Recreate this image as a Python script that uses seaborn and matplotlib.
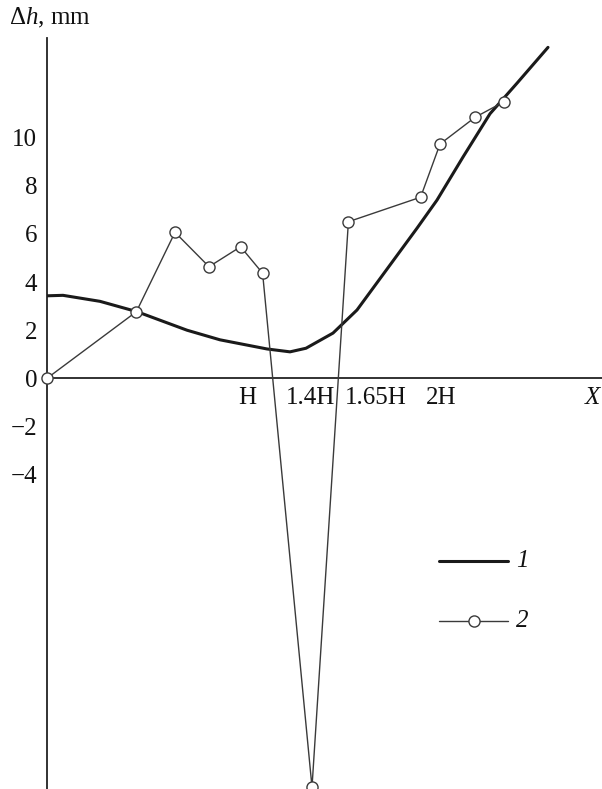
import matplotlib
matplotlib.use("Agg")
import matplotlib.pyplot as plt
import seaborn as sns
import pandas as pd
from matplotlib.lines import Line2D

# ---- data (x in units where the tick "H" is at 1.0) ----
curve1_x = [0.0, 0.08, 0.265, 0.45, 0.70, 0.865, 1.10, 1.215, 1.295, 1.43, 1.55, 1.85, 1.95, 2.08, 2.215, 2.35, 2.505]
curve1_y = [3.43, 3.45, 3.2, 2.77, 2.0, 1.6, 1.22, 1.1, 1.25, 1.88, 2.84, 6.24, 7.41, 9.2, 11.0, 12.27, 13.76]

curve2_x = [0.0, 0.447, 0.64, 0.81, 0.968, 1.078, 1.325, 1.507, 1.868, 1.965, 2.14, 2.285]
curve2_y = [0.0, 2.77, 6.07, 4.64, 5.47, 4.37, -17.0, 6.51, 7.53, 9.74, 10.85, 11.5]

xtick_pos = [1.0, 1.32, 1.645, 1.97]
xtick_labels = ["H", "1.4H", "1.65H", "2H"]
ytick_pos = [10, 8, 6, 4, 2, 0, -2, -4]
ytick_labels = ["10", "8", "6", "4", "2", "0", "\u22122", "\u22124"]

sns.set_theme(style="white")
plt.rcParams["font.family"] = ["Liberation Serif", "DejaVu Serif"]
plt.rcParams["mathtext.fontset"] = "custom"
plt.rcParams["mathtext.rm"] = "Liberation Serif"
plt.rcParams["mathtext.it"] = "Liberation Serif:italic"

FS = 18
W, H = 602, 789
fig = plt.figure(figsize=(W / 100, H / 100), dpi=100)
ax = fig.add_axes([47 / W, 0, 1 - 47 / W, (H - 38) / H])

df1 = pd.DataFrame({"x": curve1_x, "y": curve1_y})
df2 = pd.DataFrame({"x": curve2_x, "y": curve2_y})

sns.lineplot(data=df1, x="x", y="y", ax=ax, sort=False, estimator=None,
             color="#1a1a1a", linewidth=2.2, zorder=3)
sns.lineplot(data=df2, x="x", y="y", ax=ax, sort=False, estimator=None,
             color="#3a3a3a", linewidth=1.0, marker="o", markersize=8,
             markerfacecolor="white", markeredgecolor="#3a3a3a",
             markeredgewidth=1.0, zorder=4, clip_on=False)

ax.set_xlim(0, (W - 47) / 200)
ax.set_ylim(-(H - 378.3) / 24.05, (378.3 - 38) / 24.05)

for s in ["top", "right"]:
    ax.spines[s].set_visible(False)
ax.spines["bottom"].set_position(("data", 0))
ax.spines["left"].set_position(("data", 0))
for s in ["bottom", "left"]:
    ax.spines[s].set_color("#222222")
    ax.spines[s].set_linewidth(1.3)

ax.set_xticks(xtick_pos)
ax.set_xticklabels(xtick_labels)
ax.set_yticks(ytick_pos)
ax.set_yticklabels(ytick_labels)
ax.tick_params(axis="both", direction="in", length=6.5, width=1.2,
               color="#222222", labelsize=FS, labelcolor="#111111")
ax.tick_params(axis="x", pad=6)
ax.tick_params(axis="y", pad=7)
ax.set_xlabel("")
ax.set_ylabel("")
ax.grid(False)

fig.text(9 / W, 1 - 18 / H, "\u0394$h$, mm", fontsize=FS, ha="left", va="center", color="#111111")
fig.text(592 / W, 1 - 398 / H, "X", fontsize=FS, style="italic", ha="center", va="center", color="#111111")

# legend
fig.add_artist(Line2D([439 / W, 508 / W], [1 - 561 / H] * 2, color="#1a1a1a", linewidth=2.2))
fig.text(516 / W, 1 - 561 / H, "1", fontsize=FS, style="italic", ha="left", va="center", color="#111111")
fig.add_artist(Line2D([439 / W, 508 / W], [1 - 621 / H] * 2, color="#3a3a3a", linewidth=1.0))
fig.add_artist(Line2D([474 / W], [1 - 621 / H], marker="o", markersize=8, markerfacecolor="white",
                      markeredgecolor="#3a3a3a", markeredgewidth=1.0, linestyle="none"))
fig.text(516 / W, 1 - 621 / H, "2", fontsize=FS, style="italic", ha="left", va="center", color="#111111")

fig.savefig("out.png", dpi=100)
